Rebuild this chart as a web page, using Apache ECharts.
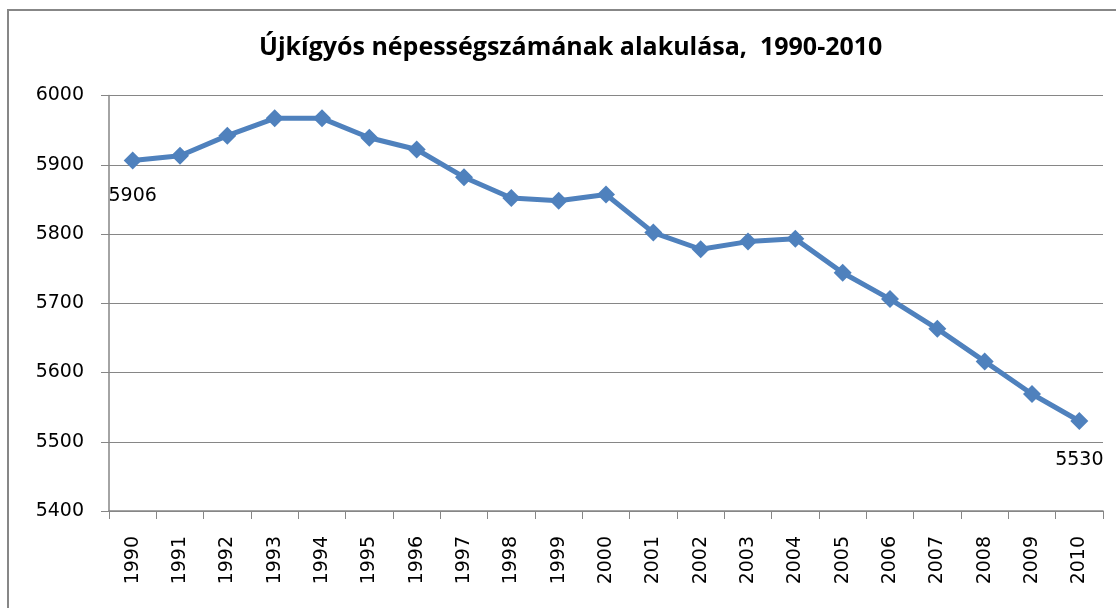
<!DOCTYPE html>
<html>
<head>
<meta charset="utf-8">
<script src="https://cdn.jsdelivr.net/npm/echarts@6/dist/echarts.min.js"></script>
<style>
  html, body { margin: 0; padding: 0; background: #fff; }
  #chart { width: 1116px; height: 608px; }
</style>
</head>
<body>
<div id="chart"></div>
<script>
const years = ["1990", "1991", "1992", "1993", "1994", "1995", "1996", "1997", "1998", "1999", "2000",
  "2001", "2002", "2003", "2004", "2005", "2006", "2007", "2008", "2009", "2010"];
const population = [5906, 5913, 5942, 5967, 5967, 5939, 5922, 5882, 5852, 5848, 5857,
  5802, 5778, 5789, 5793, 5744, 5706, 5663, 5616, 5569, 5530];
const labelledYears = ["1990", "2010"];

const chart = echarts.init(document.getElementById("chart"));
const font = "DejaVu Sans";

chart.setOption({
  animation: false,
  backgroundColor: "#fff",
  title: {
    text: "Újkígyós népességszámának alakulása,  1990-2010",
    left: 254,
    top: 30,
    textStyle: {
      fontFamily: "Open Sans",
      fontWeight: "bold",
      fontSize: 25,
      color: "#000",
    },
  },
  graphic: [
    {
      type: "rect",
      shape: { x: 8, y: 10, width: 1300, height: 800 },
      style: { fill: "none", stroke: "#878787", lineWidth: 2 },
      silent: true,
    },
  ],
  grid: {
    left: 109,
    right: 13,
    top: 95.5,
    bottom: 97,
  },
  xAxis: {
    type: "category",
    data: years,
    boundaryGap: true,
    axisLine: { lineStyle: { color: "#868686", width: 1.5 } },
    axisTick: { show: true, length: 8, lineStyle: { color: "#868686" } },
    axisLabel: {
      rotate: 90,
      interval: 0,
      margin: 25,
      fontFamily: font,
      fontSize: 19,
      color: "#000",
    },
  },
  yAxis: {
    type: "value",
    min: 5400,
    max: 6000,
    interval: 100,
    axisLine: { show: true, lineStyle: { color: "#868686", width: 1.5 } },
    axisTick: { show: true, length: 8, lineStyle: { color: "#868686" } },
    axisLabel: {
      margin: 25,
      fontFamily: font,
      fontSize: 19,
      color: "#000",
      formatter: (v) => String(v),
    },
    splitLine: { lineStyle: { color: "#868686", width: 1.2 } },
  },
  series: [
    {
      type: "line",
      data: population.map((v, i) => ({
        value: v,
        label: {
          show: labelledYears.includes(years[i]),
          position: "bottom",
          distance: i === 0 ? 17 : 21,
          fontFamily: font,
          fontSize: 19,
          color: "#000",
          formatter: (p) => String(p.value),
        },
      })),
      symbol: "diamond",
      symbolSize: 18,
      itemStyle: { color: "#4F81BD" },
      lineStyle: { color: "#4F81BD", width: 5 },
    },
  ],
});
</script>
</body>
</html>
